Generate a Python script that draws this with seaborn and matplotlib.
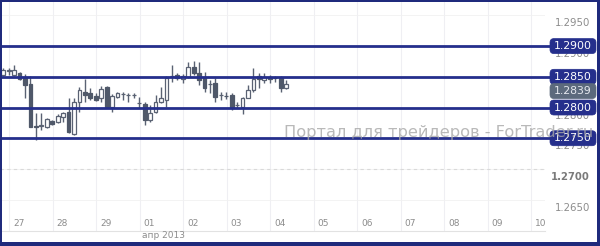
import matplotlib
matplotlib.use('Agg')
import matplotlib.pyplot as plt
import seaborn as sns
import numpy as np
from matplotlib.transforms import blended_transform_factory, offset_copy
from matplotlib.patches import FancyBboxPatch, Rectangle

# ---- data (3-hour candles, 26 Mar - 04 Apr 2013) ----
opens = [1.2853, 1.2860, 1.2853, 1.2856, 1.2850, 1.2838, 1.2770, 1.2770, 1.2768, 1.2778,
         1.2776, 1.2784, 1.2793, 1.2757, 1.2809, 1.2825, 1.2823, 1.2819, 1.2815, 1.2833,
         1.2801, 1.2817, 1.2822, 1.2820, 1.2820, 1.2807, 1.2806, 1.2780, 1.2793, 1.2809,
         1.2812, 1.2851, 1.2853, 1.2846, 1.2850, 1.2866, 1.2856, 1.2850, 1.2838, 1.2840,
         1.2820, 1.2819, 1.2820, 1.2804, 1.2801, 1.2815, 1.2828, 1.2851, 1.2845, 1.2850,
         1.2848, 1.2848, 1.2832]
highs = [1.2864, 1.2864, 1.2870, 1.2858, 1.2854, 1.2851, 1.2791, 1.2791, 1.2783, 1.2780,
         1.2789, 1.2793, 1.2815, 1.2815, 1.2833, 1.2846, 1.2832, 1.2823, 1.2835, 1.2835,
         1.2822, 1.2825, 1.2825, 1.2823, 1.2824, 1.2817, 1.2809, 1.2804, 1.2820, 1.2833,
         1.2851, 1.2869, 1.2856, 1.2854, 1.2874, 1.2876, 1.2874, 1.2858, 1.2845, 1.2848,
         1.2825, 1.2825, 1.2823, 1.2809, 1.2817, 1.2837, 1.2864, 1.2856, 1.2856, 1.2853,
         1.2851, 1.2851, 1.2845]
lows = [1.2851, 1.2853, 1.2851, 1.2845, 1.2815, 1.2768, 1.2747, 1.2763, 1.2766, 1.2771,
        1.2775, 1.2776, 1.2758, 1.2755, 1.2793, 1.2809, 1.2812, 1.2811, 1.2809, 1.2799,
        1.2793, 1.2815, 1.2812, 1.2809, 1.2815, 1.2799, 1.2771, 1.2776, 1.2791, 1.2807,
        1.2801, 1.2841, 1.2845, 1.2840, 1.2848, 1.2853, 1.2836, 1.2825, 1.2823, 1.2809,
        1.2812, 1.2814, 1.2796, 1.2799, 1.2789, 1.2815, 1.2825, 1.2832, 1.2840, 1.2840,
        1.2841, 1.2825, 1.2830]
closes = [1.2861, 1.2861, 1.2861, 1.2846, 1.2837, 1.2768, 1.2769, 1.2771, 1.2781, 1.2773,
          1.2786, 1.2791, 1.2760, 1.2809, 1.2828, 1.2820, 1.2815, 1.2813, 1.2830, 1.2801,
          1.2819, 1.2823, 1.2822, 1.2820, 1.2821, 1.2807, 1.2780, 1.2791, 1.2809, 1.2815,
          1.2848, 1.2851, 1.2848, 1.2851, 1.2866, 1.2856, 1.2845, 1.2832, 1.2838, 1.2817,
          1.2820, 1.2818, 1.2799, 1.2804, 1.2815, 1.2828, 1.2846, 1.2846, 1.2850, 1.2846,
          1.2848, 1.2832, 1.2839]
day_labels = ['27', '28', '29', '01', '02', '03', '04', '05', '06', '07', '08', '09', '10']
month_label = 'апр 2013'
level_values = [1.2900, 1.2850, 1.2800, 1.2750]
price_ticks = [1.2950, 1.2900, 1.2850, 1.2800, 1.2750, 1.2700, 1.2650]
last_price = 1.2839
watermark = 'Портал для трейдеров - ForTrader.ru'

CANDLES_PER_DAY = 8
FIRST_DAY_OFFSET = 2

navy = '#252f8c'
frame_navy = '#1f2a7c'
dark_body = '#4f5869'
edge_col = '#5a6273'
grey_txt = '#8c8c8c'

sns.set_theme(style='white')
plt.rcParams['font.family'] = ['DejaVu Sans']

fig = plt.figure(figsize=(6, 2.46), dpi=100)
fig.patch.set_facecolor('white')
ax = fig.add_axes([0, 15 / 246, 545 / 600, 231 / 246])
ax.set_facecolor('white')
ax.set_xlim(-0.6, 99.6)
ax.set_ylim(1.2599, 1.2975)
for s in ['top', 'left', 'right']:
    ax.spines[s].set_visible(False)
ax.spines['bottom'].set_color('#e2e2e2')
ax.spines['bottom'].set_linewidth(0.8)
ax.set_xticks([])
ax.set_yticks([])

n = len(opens)
idx = np.arange(n)
o = np.array(opens); c = np.array(closes); h = np.array(highs); l = np.array(lows)

# faint vertical grid (day boundaries)
day_pos = FIRST_DAY_OFFSET + CANDLES_PER_DAY * np.arange(len(day_labels))
for p in day_pos:
    ax.axvline(p - 0.9, color='#efeff3', lw=0.8, zorder=0)
# horizontal grid
for v in price_ticks:
    ax.axhline(v, color='#f1f1f1', lw=0.6, zorder=0)
ax.axhline(1.2700, color='#d9d9d9', lw=0.8, ls=(0, (3, 3)), zorder=0)

# candles
ax.vlines(idx, l, h, color=edge_col, lw=1, zorder=3)
bull = c >= o
body_h = np.abs(c - o)
ax.bar(idx[bull], body_h[bull], bottom=np.minimum(o, c)[bull], width=0.7,
       color='white', edgecolor=edge_col, linewidth=0.9, zorder=4)
ax.bar(idx[~bull], body_h[~bull], bottom=np.minimum(o, c)[~bull], width=0.7,
       color=dark_body, edgecolor=dark_body, linewidth=0.9, zorder=4)

# horizontal level lines (extend to label boxes)
bt = blended_transform_factory(ax.transAxes, ax.transData)
for v in level_values:
    ax.plot([0, 1.01], [v, v], transform=bt, color=navy, lw=2, clip_on=False, zorder=5)

# day labels
bx = blended_transform_factory(ax.transData, ax.transAxes)
for p, lab in zip(day_pos, day_labels):
    ax.text(p - 0.2, 7 / 231, lab, transform=bx, ha='left', va='center',
            fontsize=6.5, color=grey_txt)
fig.text(142 / 600, (246 - 236) / 246, month_label, ha='left', va='center',
         fontsize=6.5, color=grey_txt)

# right price labels (offset below grid line)
ft = blended_transform_factory(fig.transFigure, ax.transData)
ft_off = offset_copy(ft, fig=fig, x=0, y=-8, units='dots')
for v in price_ticks:
    bold = abs(v - 1.2700) < 1e-9
    fig.text(590 / 600, v, f'{v:.4f}', transform=ft_off, ha='right', va='center',
             fontsize=7.3, color='#7a7a7a' if bold else grey_txt,
             fontweight='bold' if bold else 'normal')

# label boxes in pixel space
fig.canvas.draw()
FH = fig.bbox.height


def box(value, fc, tc, dy=0):
    ypix = ax.transData.transform((0, value))[1] + dy
    patch = FancyBboxPatch((550, ypix - 7.5), 46, 15,
                           boxstyle='round,pad=0,rounding_size=4',
                           transform=None, fc=fc, ec=fc, lw=0.5, zorder=20)
    fig.patches.append(patch)
    fig.text(573 / 600, ypix / FH, f'{value:.4f}', ha='center', va='center',
             fontsize=7.8, color=tc, zorder=21)


for v in level_values:
    box(v, navy, 'white')
box(last_price, '#5c6a7d', '#e6e9f0', dy=-7.5)

# watermark (on top, semi-transparent)
fig.text(284 / 600, (246 - 133) / 246, watermark, fontsize=11.7, color='#a8a8a8',
         ha='left', va='center', alpha=0.8, zorder=25)

# outer frame
W, H = fig.bbox.width, fig.bbox.height
for (x0, y0, w, hh) in [(0, 0, 2, H), (0, H - 1.5, W, 1.5), (W - 3, 0, 3, H), (0, 0, W, 4.5)]:
    fig.patches.append(Rectangle((x0, y0), w, hh, transform=None, fc=frame_navy,
                                 ec='none', zorder=30))

fig.savefig('out.png', dpi=100, facecolor='white')
